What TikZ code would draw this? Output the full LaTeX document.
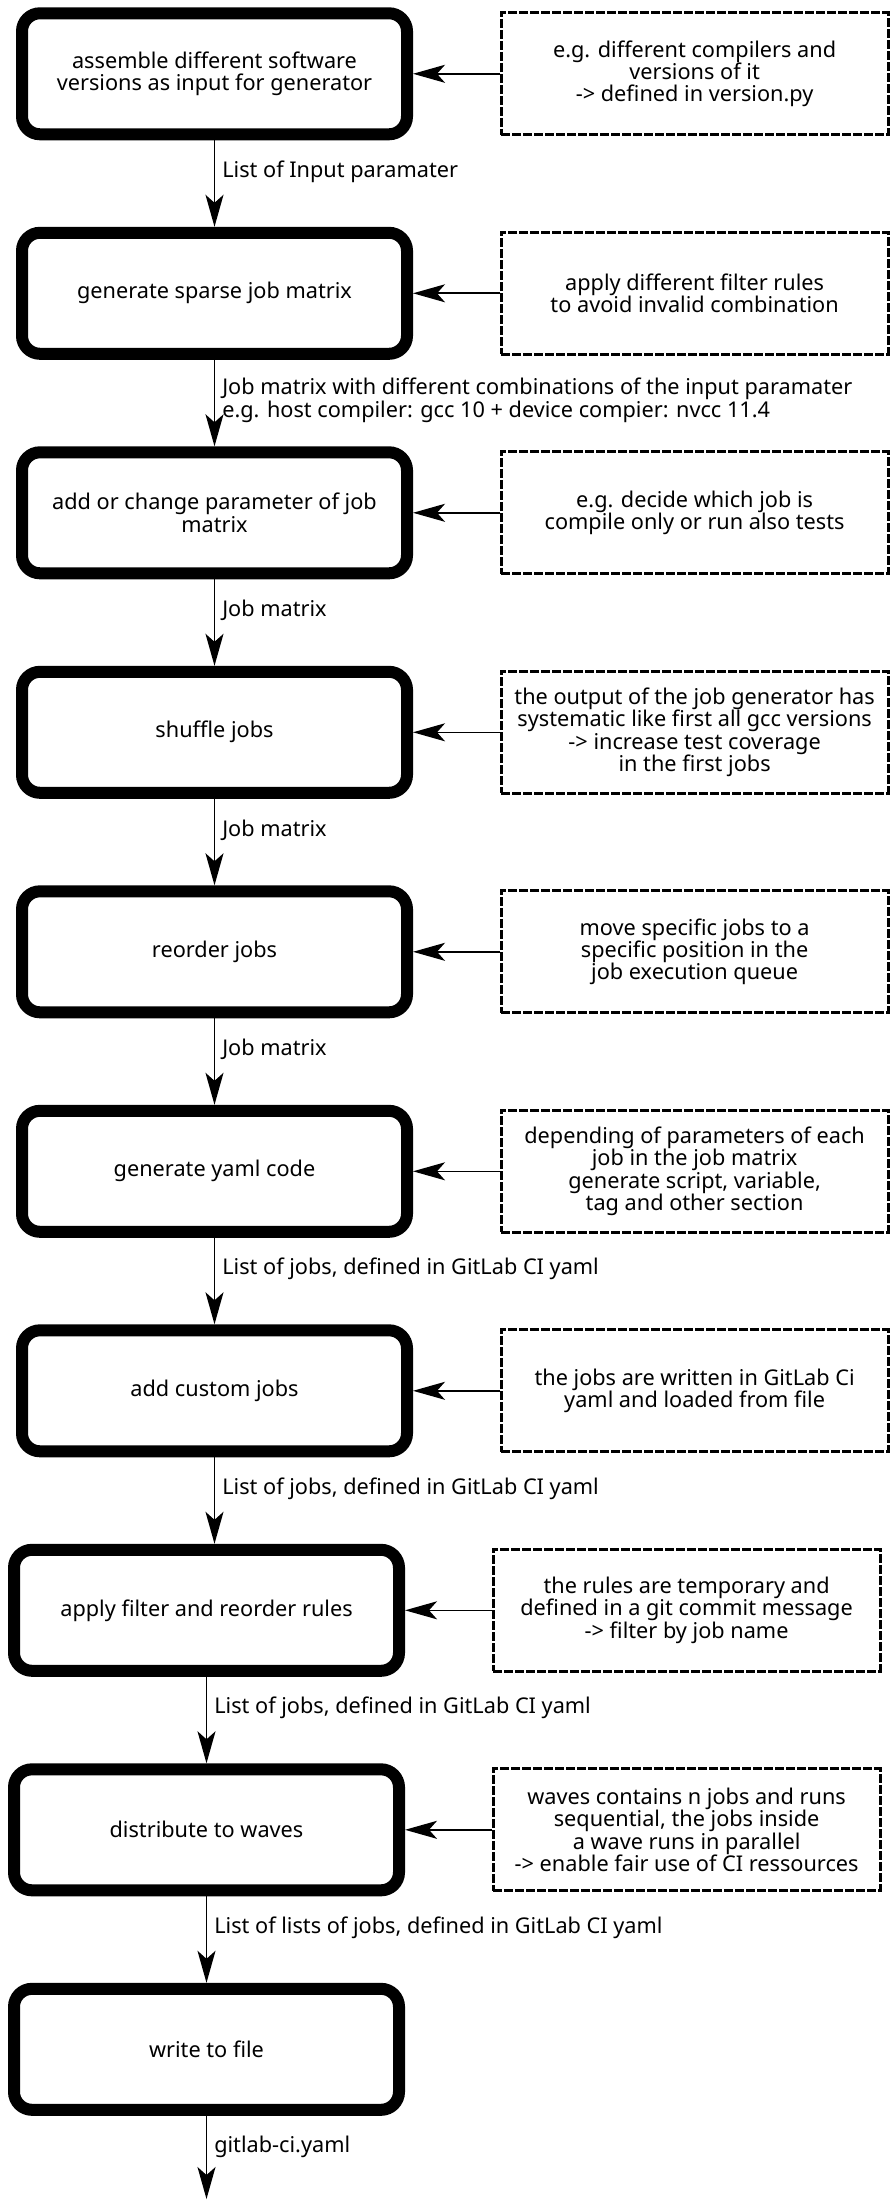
\documentclass[tikz,border=0pt]{standalone}
\usepackage{fontspec}
\setmainfont{Noto Sans}
\usepackage{tikz}
\usetikzlibrary{positioning,arrows.meta}

\begin{document}
\begin{tikzpicture}[
			node distance=43.25pt,
			task/.style={draw, line width=6pt, rounded corners=9pt, minimum width=192.5pt, minimum height=60.5pt, align=center, font=\fontsize{10.85}{11.2}\selectfont},
			note/.style={draw, line width=1.6pt, dash pattern=on 4.5pt off 1pt, minimum width=193.5pt, minimum height=61pt, align=center, font=\fontsize{10.85}{11.2}\selectfont},
			flow/.style={-{Stealth[length=16pt, width=9pt, inset=4pt]}, line width=0.8pt},
			lbl/.style={anchor=west, inner sep=0pt, xshift=3.5pt, align=left, font=\fontsize{10.85}{11.2}\selectfont}]
			\path[use as bounding box] (0,0) rectangle (447pt,-1104.5pt);
			\node[task] (b1) at (107.25pt,-36.9pt) {assemble different software\\versions as input for generator};
			\node[task, below=of b1] (b2) {generate sparse job matrix};
			\node[task, below=of b2] (b3) {add or change parameter of job\\matrix};
			\node[task, below=of b3] (b4) {shuffle jobs};
			\node[task, below=of b4] (b5) {reorder jobs};
			\node[task, below=of b5] (b6) {generate yaml code};
			\node[task, below=of b6] (b7) {add custom jobs};
			\node[task, below=of b7, xshift=-4pt] (b8) {apply filter and reorder rules};
			\node[task, below=of b8] (b9) {distribute to waves};
			\node[task, below=of b9] (b10) {write to file};
			\coordinate[below=41.6pt of b10] (out);

			\node[note, right=of b1] (n1) {e.g. different compilers and\\versions of it\\ -> defined in version.py};
			\node[note, right=of b2] (n2) {apply different filter rules\\to avoid invalid combination};
			\node[note, right=of b3] (n3) {e.g. decide which job is\\compile only or run also tests};
			\node[note, right=of b4] (n4) {the output of the job generator has\\systematic like first all gcc versions\\-> increase test coverage\\in the first jobs};
			\node[note, right=of b5] (n5) {move specific jobs to a\\specific position in the\\ job execution queue};
			\node[note, right=of b6] (n6) {depending of parameters of each\\job in the job matrix\\generate script, variable,\\tag and other section};
			\node[note, right=of b7] (n7) {the jobs are written in GitLab Ci\\yaml and loaded from file};
			\node[note, right=of b8] (n8) {the rules are temporary and\\defined in a git commit message\\-> filter by job name};
			\node[note, right=of b9] (n9) {waves contains n jobs and runs\\sequential, the jobs inside\\a wave runs in parallel\\ -> enable fair use of CI ressources};

			\foreach \i in {1,...,9}
				\draw[flow] (n\i) -- (b\i);

			\draw[flow] (b1) -- node[lbl, pos=.36] {List of Input paramater} (b2);
			\draw[flow] (b2) -- node[lbl, pos=.47] {Job matrix with different combinations of the input paramater\\e.g. host compiler: gcc 10 + device compier: nvcc 11.4} (b3);
			\draw[flow] (b3) -- node[lbl, pos=.36] {Job matrix} (b4);
			\draw[flow] (b4) -- node[lbl, pos=.36] {Job matrix} (b5);
			\draw[flow] (b5) -- node[lbl, pos=.36] {Job matrix} (b6);
			\draw[flow] (b6) -- node[lbl, pos=.36] {List of jobs, defined in GitLab CI yaml} (b7);
			\draw[flow] (b7) -- node[lbl, pos=.36] {List of jobs, defined in GitLab CI yaml} (b7 |- b8.north);
			\draw[flow] (b8) -- node[lbl, pos=.36] {List of jobs, defined in GitLab CI yaml} (b9);
			\draw[flow] (b9) -- node[lbl, pos=.36] {List of lists of jobs, defined in GitLab CI yaml} (b10);
			\draw[flow] (b10) -- node[lbl, pos=.37] {gitlab-ci.yaml} (out);
		\end{tikzpicture}
\end{document}
